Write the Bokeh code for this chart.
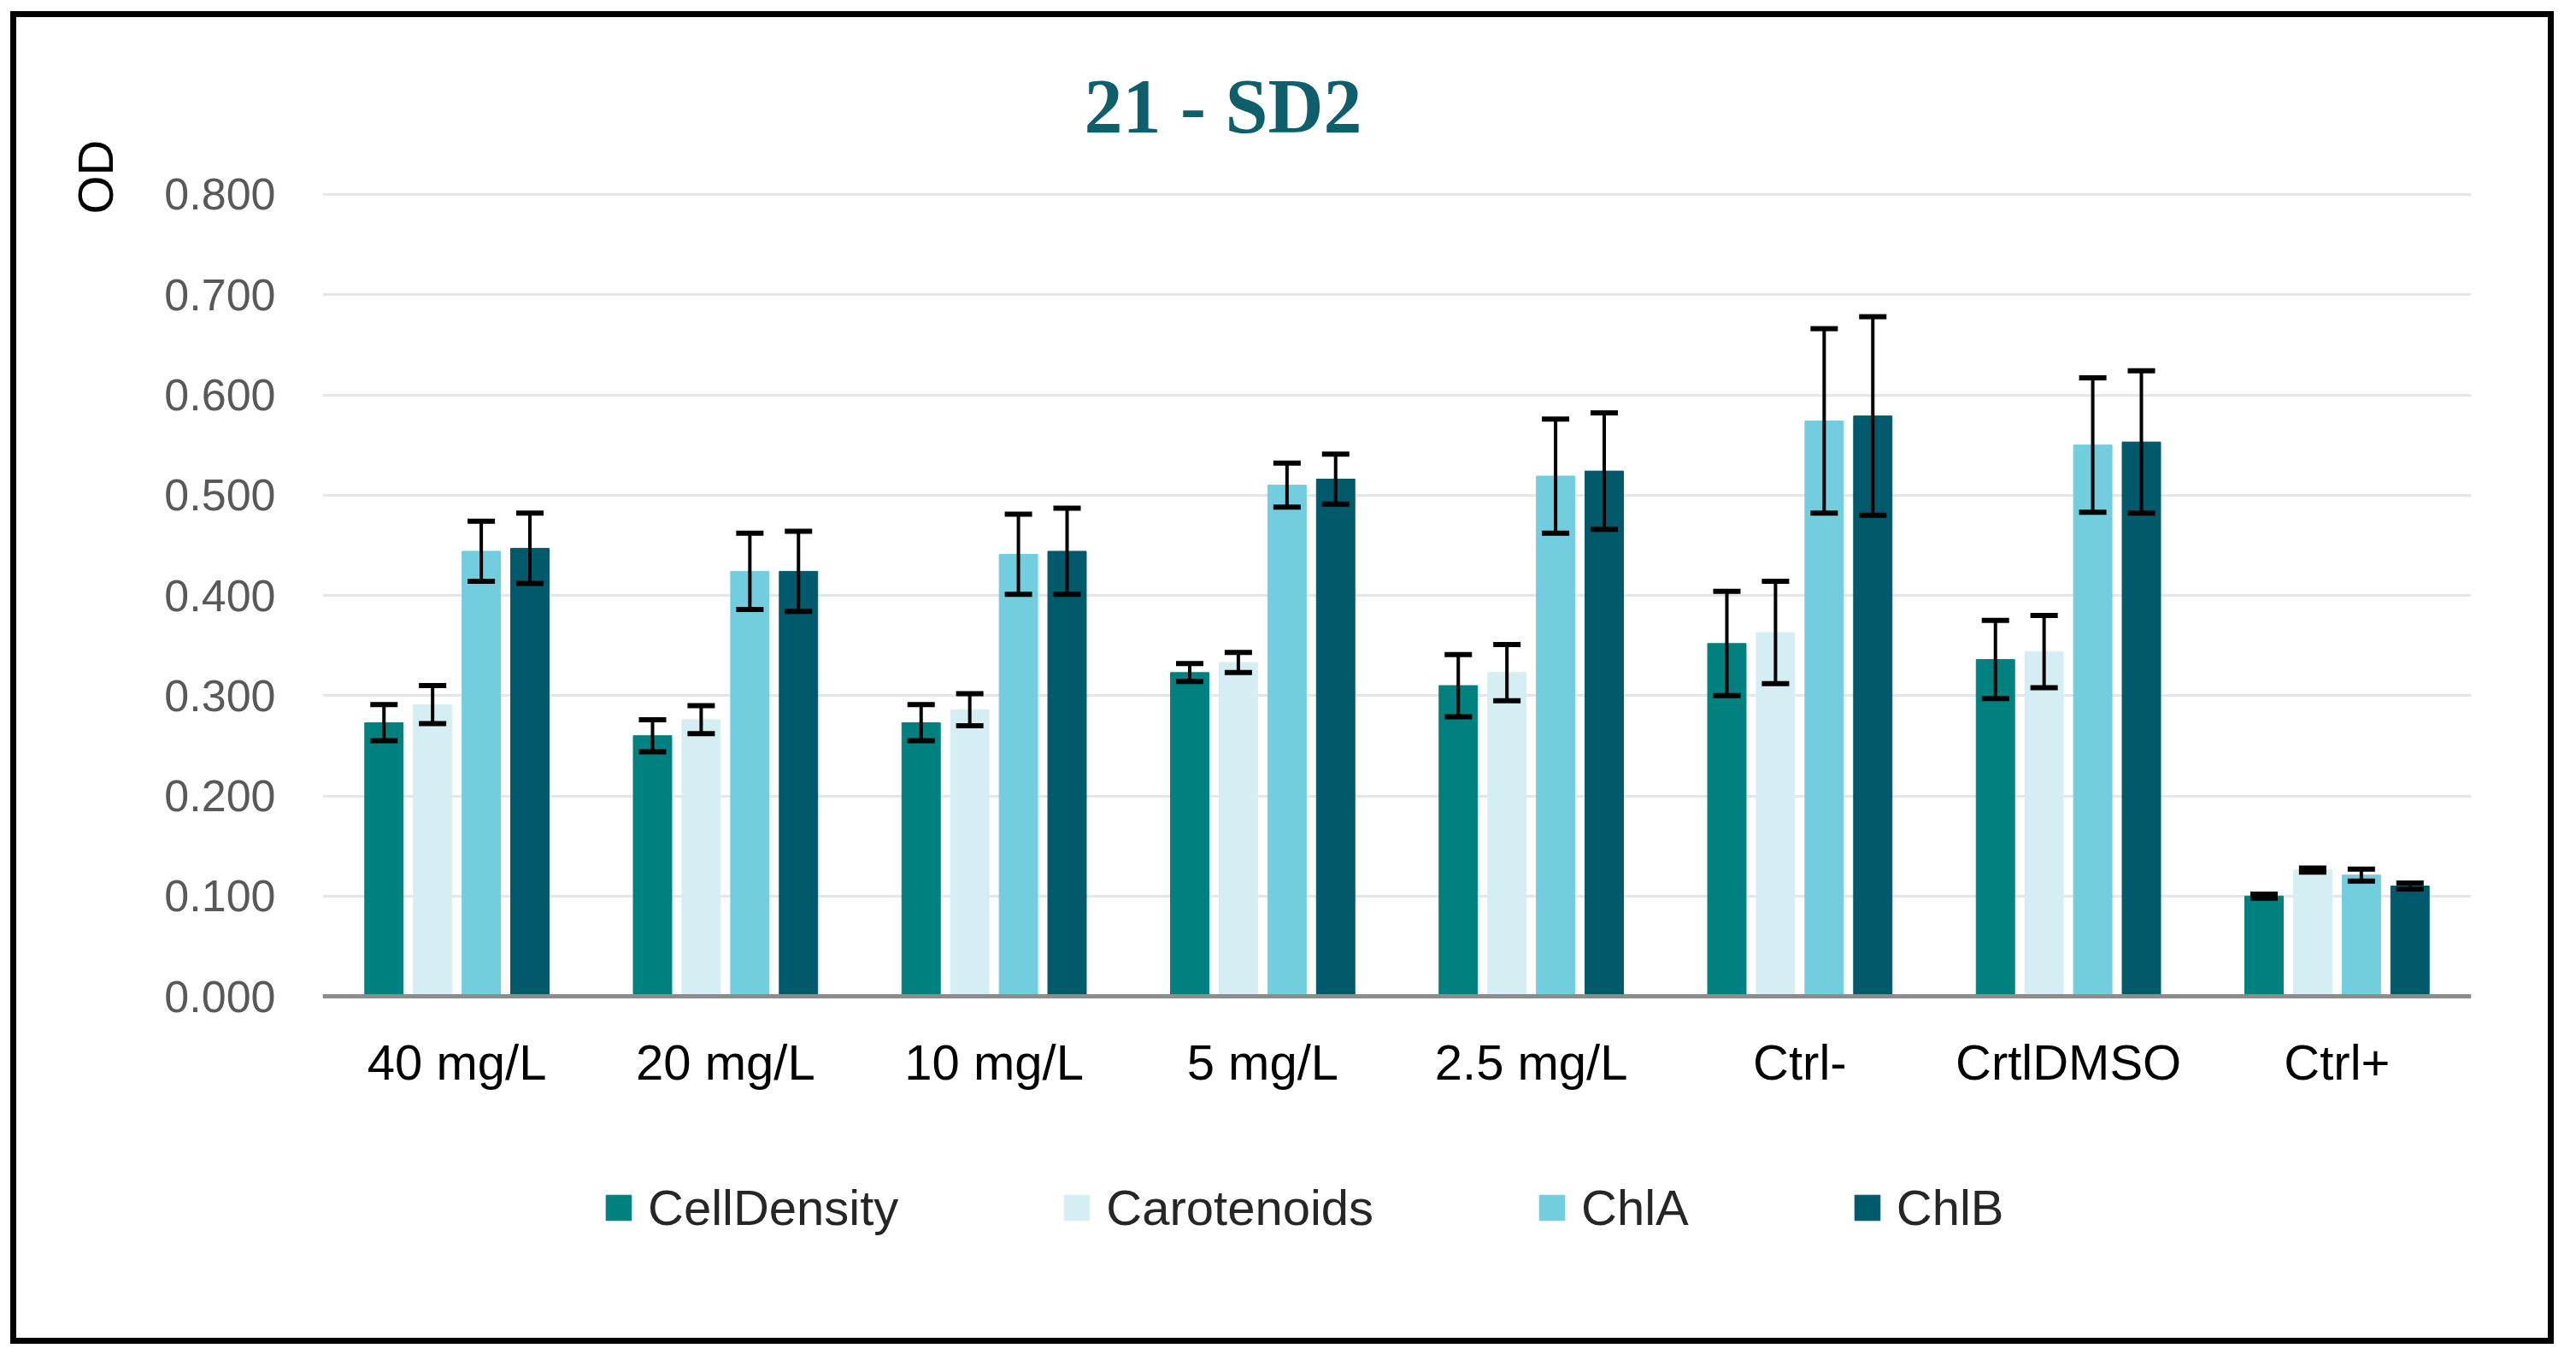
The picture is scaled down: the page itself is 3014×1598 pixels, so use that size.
from bokeh.plotting import figure
from bokeh.models import (ColumnDataSource, FactorRange, Range1d, FixedTicker,
                          NumeralTickFormatter, Whisker, TeeHead, Legend, LegendItem, Title, Spacer)
from bokeh.layouts import row, column
from bokeh.transform import dodge
from bokeh.embed import file_html
from bokeh.resources import INLINE

# ---------------- data ----------------
categories = ["40 mg/L", "20 mg/L", "10 mg/L", "5 mg/L", "2.5 mg/L", "Ctrl-", "CrtlDMSO", "Ctrl+"]
series_names = ["CellDensity", "Carotenoids", "ChlA", "ChlB"]

cell_density = [0.273, 0.260, 0.273, 0.323, 0.310, 0.352, 0.336, 0.100]
cell_density_err = [0.018, 0.016, 0.018, 0.009, 0.031, 0.052, 0.039, 0.002]
carotenoids = [0.291, 0.276, 0.286, 0.333, 0.323, 0.363, 0.344, 0.126]
carotenoids_err = [0.019, 0.014, 0.016, 0.010, 0.028, 0.051, 0.036, 0.002]
chla = [0.444, 0.424, 0.441, 0.510, 0.519, 0.574, 0.550, 0.121]
chla_err = [0.030, 0.038, 0.040, 0.022, 0.057, 0.092, 0.067, 0.006]
chlb = [0.447, 0.424, 0.444, 0.516, 0.524, 0.579, 0.553, 0.110]
chlb_err = [0.035, 0.040, 0.043, 0.025, 0.058, 0.099, 0.071, 0.003]

y_ticks = [0.0, 0.1, 0.2, 0.3, 0.4, 0.5, 0.6, 0.7, 0.8]

values = [cell_density, carotenoids, chla, chlb]
errors = [cell_density_err, carotenoids_err, chla_err, chlb_err]
colors = ["#00807E", "#D5EEF4", "#72CDDF", "#005A6B"]
offsets = [-0.2717, -0.0906, 0.0906, 0.2717]
bar_w = 0.143

FONT = "Liberation Sans"

# the frame also holds the legend area below the zero line (no grid/ticks there)
p = figure(x_range=FactorRange(*categories, range_padding=0),
           y_range=Range1d(-0.2524, 0.8017),
           width=2976, height=1559,
           output_backend="svg", toolbar_location=None,
           min_border_left=358, min_border_right=104,
           min_border_top=199, min_border_bottom=118)
p.styles = {"border": "7px solid #000000"}
p.outline_line_color = None
p.background_fill_color = "white"
p.border_fill_color = "white"

items = []
for name, vals, errs, col, off in zip(series_names, values, errors, colors, offsets):
    src = ColumnDataSource(dict(x=categories, y=vals,
                                upper=[v + e for v, e in zip(vals, errs)],
                                lower=[v - e for v, e in zip(vals, errs)]))
    r = p.vbar(x=dodge("x", off, range=p.x_range), top="y", bottom=0, width=bar_w, source=src,
               fill_color=col, line_color=col, line_width=1)
    w = Whisker(source=src, base=dodge("x", off, range=p.x_range), upper="upper", lower="lower",
                line_color="black", line_width=4,
                upper_head=TeeHead(size=32, line_width=6, line_color="black"),
                lower_head=TeeHead(size=32, line_width=6, line_color="black"))
    w.level = "overlay"
    p.add_layout(w)
    items.append(LegendItem(label=name, renderers=[r]))

# axes
p.yaxis.ticker = FixedTicker(ticks=y_ticks)
p.yaxis.formatter = NumeralTickFormatter(format="0.000")
p.yaxis.axis_line_color = None
p.yaxis.major_tick_line_color = None
p.yaxis.minor_tick_line_color = None
p.yaxis.major_tick_out = 0
p.yaxis.major_tick_in = 0
p.yaxis.major_label_text_font = FONT
p.yaxis.major_label_text_font_size = "52px"
p.yaxis.major_label_text_color = "#595959"
p.yaxis.major_label_standoff = 55

p.xaxis.fixed_location = 0
p.xaxis.axis_line_color = "#8C8C8C"
p.xaxis.axis_line_width = 5
p.xaxis.major_tick_line_color = None
p.xaxis.major_tick_out = 0
p.xaxis.major_tick_in = 0
p.xaxis.major_label_text_font = FONT
p.xaxis.major_label_text_font_size = "58px"
p.xaxis.major_label_text_color = "#000000"
p.xaxis.major_label_standoff = 44

p.xgrid.grid_line_color = None
p.ygrid.grid_line_color = "#E6E6E6"
p.ygrid.grid_line_width = 3

# title
t = Title(text="21 - SD2", align="left", offset=891, standoff=104,
          text_font="Liberation Serif", text_font_style="bold",
          text_font_size="90px", text_color="#0E5E6B")
p.add_layout(t, "above")

# y axis title at the top of the axis
od = Title(text="OD", align="right", offset=-62, standoff=92,
           text_font=FONT, text_font_style="normal",
           text_font_size="58px", text_color="#000000")
p.add_layout(od, "left")

legend = Legend(items=items, orientation="horizontal", location=(328, 15),
                glyph_width=37, glyph_height=37, label_standoff=16, spacing=190,
                padding=0, margin=0, border_line_color=None, background_fill_alpha=0,
                label_text_font=FONT, label_text_font_size="58px", label_text_color="#262626")
p.add_layout(legend, "center")

layout = row(Spacer(width=12), column(Spacer(height=13), p))
open("out.html", "w").write(file_html(layout, INLINE))
